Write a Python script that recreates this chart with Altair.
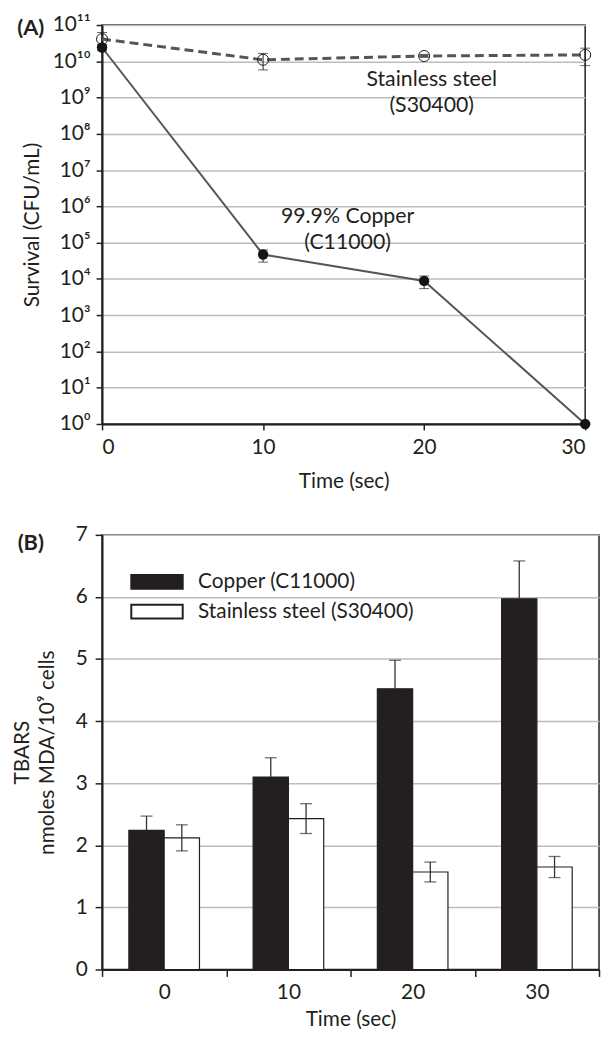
import altair as alt
import pandas as pd

# ---------------- Panel A data: survival (CFU/mL) ----------------
time_a = [0, 10, 20, 30]
copper_cfu = [2.4e10, 4.7e4, 8.8e3, 1.0]
copper_lo = [2.0e10, 2.9e4, 5.4e3, 1.0]
copper_hi = [2.9e10, 6.3e4, 1.2e4, 1.0]
steel_cfu = [4.1e10, 1.1e10, 1.4e10, 1.5e10]
steel_lo = [2.7e10, 5.8e9, 1.3e10, 7.6e9]
steel_hi = [6.2e10, 1.65e10, 1.55e10, 2.3e10]
decades = [10 ** k for k in range(12)]

# ---------------- Panel B data: TBARS ----------------
time_b = ["0", "10", "20", "30"]
series_b = ["Copper (C11000)", "Stainless steel (S30400)"]
copper_tbars = [2.24, 3.10, 4.52, 5.97]
copper_err = [0.23, 0.31, 0.46, 0.61]
steel_tbars = [2.12, 2.43, 1.57, 1.65]
steel_err = [0.21, 0.24, 0.16, 0.17]
tbars_ticks = [0, 1, 2, 3, 4, 5, 6, 7]

FONT = "Lato"
INK = "#231f20"

# ---------------- Panel A ----------------
df_cu = pd.DataFrame({"t": time_a, "v": copper_cfu, "lo": copper_lo, "hi": copper_hi})
df_ss = pd.DataFrame({"t": time_a, "v": steel_cfu, "lo": steel_lo, "hi": steel_hi})

sup = "['\u2070','\u00b9','\u00b2','\u00b3','\u2074','\u2075','\u2076','\u2077','\u2078','\u2079','\u00b9\u2070','\u00b9\u00b9']"
x_a = alt.X("t:Q", scale=alt.Scale(domain=[0, 30], nice=False),
            axis=alt.Axis(values=time_a, title="Time (sec)", grid=False, tickSize=6,
                          labelPadding=7, titlePadding=13))
y_a = alt.Y("v:Q", scale=alt.Scale(type="log", domain=[1, 1e11], nice=False),
            axis=alt.Axis(values=decades, grid=True, tickSize=6, labelPadding=6,
                          title="Survival (CFU/mL)", titlePadding=10,
                          labelExpr="'10' + " + sup + "[round(log(datum.value)/LN10)]"))

def caps(df, field):
    return alt.Chart(df).mark_tick(orient="horizontal", color=INK, size=10, thickness=1).encode(
        x=x_a, y=alt.Y(field + ":Q"))

ss_err = alt.Chart(df_ss).mark_rule(color=INK, strokeWidth=1).encode(x=x_a, y=alt.Y("lo:Q"), y2="hi:Q")
ss_line = alt.Chart(df_ss).mark_line(color="#555555", strokeWidth=3, strokeDash=[9, 5]).encode(x=x_a, y=y_a)
ss_pts = alt.Chart(df_ss).mark_point(shape="circle", filled=False, size=125, color=INK,
                                     strokeWidth=1, opacity=1).encode(x=x_a, y=y_a)

cu_line = alt.Chart(df_cu).mark_line(color="#555555", strokeWidth=2).encode(x=x_a, y=y_a)
cu_err = alt.Chart(df_cu).mark_rule(color=INK, strokeWidth=1).encode(x=x_a, y=alt.Y("lo:Q"), y2="hi:Q")
cu_pts = alt.Chart(df_cu).mark_circle(size=110, color="#151515", opacity=1).encode(x=x_a, y=y_a)

lab_a = alt.Chart(pd.DataFrame({"s": ["(A)"]})).mark_text(
    font=FONT, fontSize=22, fontWeight="bold", color=INK, align="center", baseline="middle"
).encode(x=alt.value(-72), y=alt.value(3), text="s:N")
ann_ss = alt.Chart(pd.DataFrame({"s": ["Stainless steel\n(S30400)"]})).mark_text(
    font=FONT, fontSize=21.5, color=INK, align="center", baseline="middle", lineBreak="\n", lineHeight=26
).encode(x=alt.value(333), y=alt.value(56), text="s:N")
ann_cu = alt.Chart(pd.DataFrame({"s": ["99.9% Copper\n(C11000)"]})).mark_text(
    font=FONT, fontSize=21.5, color=INK, align="center", baseline="middle", lineBreak="\n", lineHeight=26
).encode(x=alt.value(248), y=alt.value(194), text="s:N")

panel_a = alt.layer(
    ss_err, caps(df_ss, "hi"), caps(df_ss, "lo"), ss_line, ss_pts,
    cu_line, cu_err, caps(df_cu, "hi"), caps(df_cu, "lo"), cu_pts,
    ann_ss, ann_cu, lab_a
).properties(width=488, height=403)

# ---------------- Panel B ----------------
rows = []
for i, t in enumerate(time_b):
    # copper error bar only visible above its black bar
    rows.append({"time": t, "series": series_b[0], "value": copper_tbars[i],
                 "lo": copper_tbars[i], "hi": copper_tbars[i] + copper_err[i], "low_cap": 0})
    rows.append({"time": t, "series": series_b[1], "value": steel_tbars[i],
                 "lo": steel_tbars[i] - steel_err[i], "hi": steel_tbars[i] + steel_err[i], "low_cap": 1})
df_b = pd.DataFrame(rows)

x_b = alt.X("time:N", sort=time_b, scale=alt.Scale(paddingInner=0, paddingOuter=0),
            axis=alt.Axis(title="Time (sec)", tickBand="extent", labelAngle=0, tickSize=7,
                          labelPadding=5, titlePadding=7, grid=False))
xo_b = alt.XOffset("series:N", sort=series_b, scale=alt.Scale(paddingInner=0, paddingOuter=0.76))
y_b = alt.Y("value:Q", scale=alt.Scale(domain=[0, 7], nice=False),
            axis=alt.Axis(values=tbars_ticks, format="d", grid=True, tickSize=7, labelPadding=8,
                          title=["TBARS", "nmoles MDA/10\u2079 cells"], titleLineHeight=25,
                          titlePadding=18))

bars = alt.Chart(df_b).mark_bar(stroke=INK, strokeWidth=1.2).encode(
    x=x_b, xOffset=xo_b, y=y_b,
    fill=alt.Fill("series:N", sort=series_b,
                  scale=alt.Scale(domain=series_b, range=[INK, "#ffffff"]),
                  legend=alt.Legend(orient="none", legendX=45, legendY=37, title=None,
                                    symbolType="M-3.71,-1L3.71,-1L3.71,1L-3.71,1Z",
                                    symbolSize=196, symbolStrokeColor=INK, symbolStrokeWidth=2,
                                    labelFont=FONT, labelFontSize=21, labelColor=INK,
                                    labelLimit=0, labelOffset=31, rowPadding=7, padding=0)),
)
err_b = alt.Chart(df_b).mark_rule(color="#333333", strokeWidth=1.3).encode(
    x=x_b, xOffset=xo_b, y=alt.Y("lo:Q"), y2="hi:Q")
cap_b_hi = alt.Chart(df_b).mark_tick(orient="horizontal", color="#333333", size=12, thickness=1.3).encode(
    x=x_b, xOffset=xo_b, y=alt.Y("hi:Q"))
cap_b_lo = alt.Chart(df_b).transform_filter("datum.low_cap == 1").mark_tick(
    orient="horizontal", color="#333333", size=12, thickness=1.3).encode(
    x=x_b, xOffset=xo_b, y=alt.Y("lo:Q"))
lab_b = alt.Chart(pd.DataFrame({"s": ["(B)"]})).mark_text(
    font=FONT, fontSize=22, fontWeight="bold", color=INK, align="center", baseline="middle"
).encode(x=alt.value(-72), y=alt.value(8), text="s:N")

panel_b = alt.layer(bars, err_b, cap_b_hi, cap_b_lo, lab_b).properties(width=502, height=439)

chart = alt.vconcat(panel_a, panel_b, spacing=31).resolve_legend(fill="independent").properties(
    padding={"left": 3, "top": 0, "right": 0, "bottom": 0}
).configure_view(
    stroke=INK, strokeWidth=1.5
).configure_axis(
    domainColor=INK, domainWidth=2, tickColor=INK, tickWidth=1.5,
    labelColor=INK, titleColor=INK, labelFont=FONT, titleFont=FONT,
    labelFontSize=21, titleFontSize=21, titleFontWeight="normal",
    gridColor="#bdbdbd", gridWidth=1.5
)

chart.save("out.html", embed_options={"renderer": "svg", "actions": False})
